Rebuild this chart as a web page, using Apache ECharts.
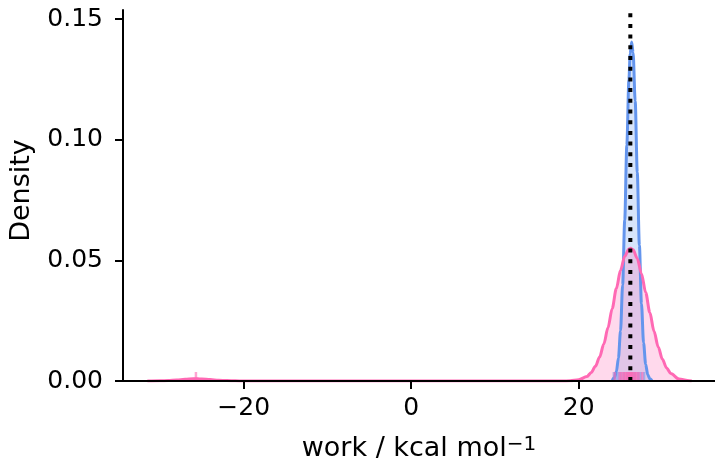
<!DOCTYPE html>
<html>
<head>
<meta charset="utf-8">
<script src="https://cdn.jsdelivr.net/npm/echarts@6/dist/echarts.min.js"></script>
<style>html,body{margin:0;padding:0;background:#fff}#chart{width:715px;height:462px}</style>
</head>
<body>
<div id="chart"></div>
<script>
// ---- data ----
const blueX = [24.0,24.25,24.5,24.75,25.0,25.25,25.5,25.75,26.0,26.15,26.33,26.5,26.75,27.0,27.25,27.5,27.75,28.0,28.25,28.5,28.75];
const blueDensity = [0.0003,0.0013,0.0038,0.0095,0.0208,0.0398,0.0667,0.0977,0.1249,0.1357,0.1405,0.1362,0.1161,0.0865,0.0563,0.0320,0.0159,0.0069,0.0026,0.0009,0.0002];
const pinkX = [-31.5,-30,-29,-28,-27,-26,-25.5,-25,-24,-23,-22,-21,-20,-19,0,18,19,20,21,21.5,22,22.5,23,23.5,24,24.5,25,25.5,26,26.2,26.5,27,27.5,28,28.5,29,29.5,30,30.5,31,32,33,33.5];
const pinkDensity = [0,0.0001,0.0002,0.0004,0.0007,0.0009,0.0009,0.0008,0.0006,0.0003,0.0002,0.0001,0,0,0,0,0.0001,0.0005,0.0019,0.0035,0.0061,0.0099,0.0153,0.0221,0.0300,0.0383,0.0459,0.0517,0.0547,0.0550,0.0544,0.0508,0.0445,0.0367,0.0284,0.0206,0.0141,0.0090,0.0054,0.0031,0.0008,0.0002,0];
const pinkRug = [-25.7,24.3,24.9,25.1,25.3,25.5,25.6,25.8,25.9,26.0,26.1,26.2,26.3,26.4,26.5,26.7,26.8,27.0,27.2,27.6];
const blueRug = [24.2,24.4,24.7,25.0,25.4,25.8,26.1,26.4,26.7,27.1,27.4,27.8];
const refWork = 26.17;
const xTicks = [-20, 0, 20];
const yTicks = [0, 0.05, 0.10, 0.15];

const BLUE = '#6495ED', PINK = '#FF69B4', FONT = 'DejaVu Sans';
const zip = (xs, ys) => xs.map((x, i) => [x, ys[i]]);
const rug = xs => xs.map(x => [x, 0]);

const chart = echarts.init(document.getElementById('chart'), null, {renderer: 'canvas'});
chart.setOption({
  animation: false,
  backgroundColor: '#fff',
  grid: {left: 123, right: 0, top: 10, bottom: 81, outerBoundsMode: 'none'},
  xAxis: {
    type: 'value', min: -34.41, max: 36.28, z: 3,
    axisLine: {show: true, onZero: false, lineStyle: {color: '#000', width: 2}},
    axisTick: {show: true, customValues: xTicks, length: 8, lineStyle: {color: '#000', width: 2}},
    axisLabel: {customValues: xTicks, color: '#000', fontSize: 25, fontFamily: FONT, margin: 15,
      formatter: v => v < 0 ? '\u2212' + Math.abs(v) : String(v)},
    splitLine: {show: false},
    name: 'work / kcal mol{sup|\u22121}', nameLocation: 'middle', nameGap: 54,
    nameTextStyle: {color: '#000', fontSize: 27, fontFamily: FONT,
      rich: {sup: {fontSize: 20, fontFamily: FONT, color: '#000', verticalAlign: 'top'}}}
  },
  yAxis: {
    type: 'value', min: 0, max: 0.1538, z: 3,
    axisLine: {show: true, onZero: false, lineStyle: {color: '#000', width: 2}},
    axisTick: {show: true, customValues: yTicks, length: 8, lineStyle: {color: '#000', width: 2}},
    axisLabel: {customValues: yTicks, color: '#000', fontSize: 25, fontFamily: FONT, margin: 20,
      formatter: v => v.toFixed(2)},
    splitLine: {show: false},
    name: 'Density', nameLocation: 'middle', nameGap: 88, nameRotate: 90,
    nameTextStyle: {color: '#000', fontSize: 27, fontFamily: FONT, padding: [0, 0, 0, 10]}
  },
  series: [
    {type: 'line', data: zip(blueX, blueDensity), showSymbol: false, smooth: 0.3, smoothMonotone: 'x',
      lineStyle: {color: BLUE, width: 3}, itemStyle: {color: BLUE},
      areaStyle: {color: BLUE, opacity: 0.26}, z: 2},
    {type: 'line', data: zip(pinkX, pinkDensity), showSymbol: false, smooth: 0.3, smoothMonotone: 'x',
      lineStyle: {color: PINK, width: 3}, itemStyle: {color: PINK},
      areaStyle: {color: PINK, opacity: 0.25}, z: 2},
    {type: 'scatter', data: rug(blueRug), symbol: 'rect', symbolSize: [2.5, 9], symbolOffset: [0, -4.5],
      itemStyle: {color: BLUE, opacity: 0.5}, z: 2},
    {type: 'scatter', data: rug(pinkRug), symbol: 'rect', symbolSize: [2.5, 9], symbolOffset: [0, -4.5],
      itemStyle: {color: PINK, opacity: 0.6}, z: 2},
    {type: 'line', data: [[refWork, 0], [refWork, 0.1538]], showSymbol: false,
      lineStyle: {color: '#000', width: 4, type: [4, 6.7], cap: 'butt'}, z: 4}
  ]
});
</script>
</body>
</html>
